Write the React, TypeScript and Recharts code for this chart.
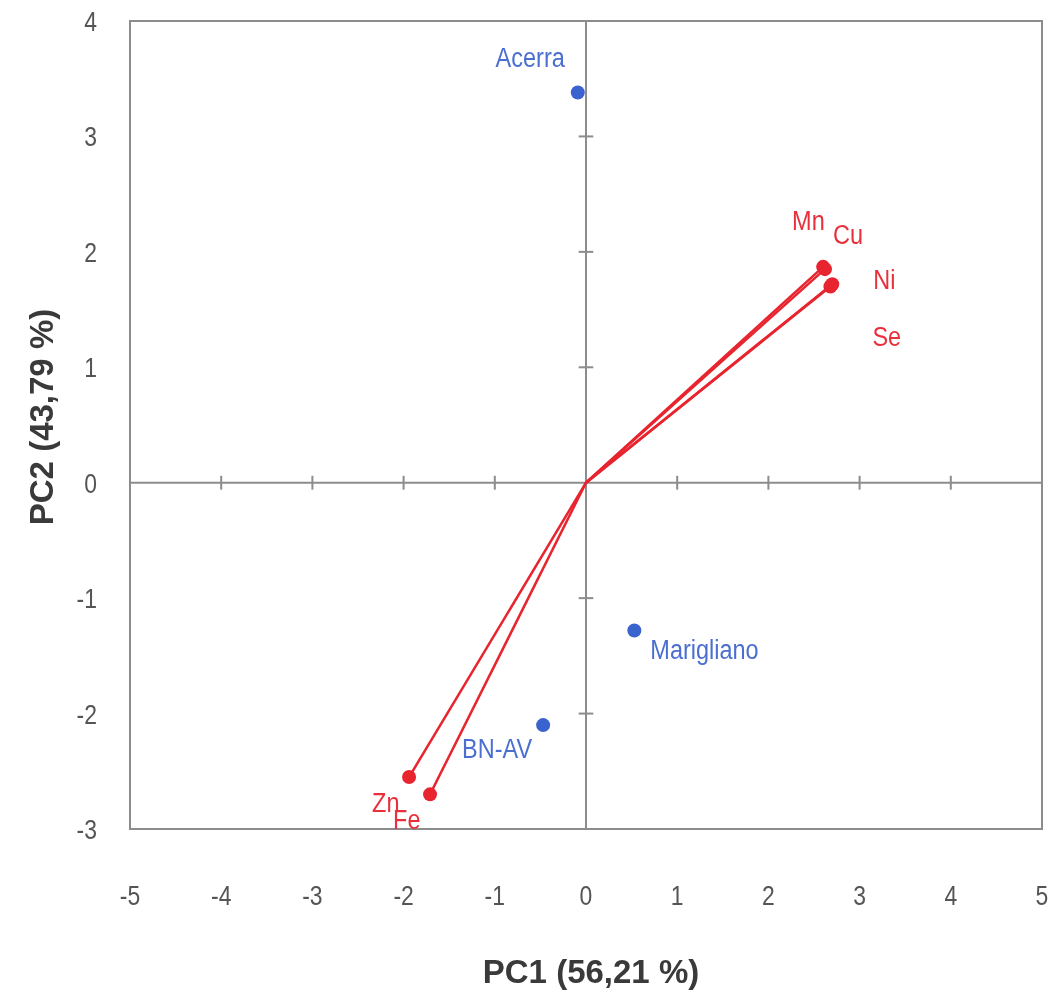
import React from "react";
import {
  ScatterChart,
  Scatter,
  XAxis,
  YAxis,
  ReferenceLine,
  ReferenceArea,
} from "recharts";

// ---- Data ----
const xTicks = [-5, -4, -3, -2, -1, 0, 1, 2, 3, 4, 5];
const yTicks = [-3, -2, -1, 0, 1, 2, 3, 4];
const xInnerTicks = [-4, -3, -2, -1, 1, 2, 3, 4];
const yInnerTicks = [-2, -1, 1, 2, 3];

const sites = [
  { name: "Acerra", x: -0.09, y: 3.38 },
  { name: "Marigliano", x: 0.53, y: -1.28 },
  { name: "BN-AV", x: -0.47, y: -2.1 },
];

const variables = [
  { name: "Mn", x: 2.6, y: 1.87 },
  { name: "Cu", x: 2.62, y: 1.85 },
  { name: "Ni", x: 2.7, y: 1.72 },
  { name: "Se", x: 2.68, y: 1.7 },
  { name: "Zn", x: -1.94, y: -2.55 },
  { name: "Fe", x: -1.71, y: -2.7 },
];

const xTitle = "PC1 (56,21 %)";
const yTitle = "PC2 (43,79 %)";

// ---- Styles ----
const BLUE = "#3b63cf";
const BLUE_TEXT = "#4a6fd0";
const RED = "#e8242e";
const RED_TEXT = "#e8303c";
const GRAY = "#8c8c8c";
const FONT = "'Liberation Sans', Arial, sans-serif";

const labelOffsets: Record<string, { dx: number; dy: number; anchor: string }> = {
  Acerra: { dx: -13, dy: -26, anchor: "end" },
  Marigliano: { dx: 16, dy: 29, anchor: "start" },
  "BN-AV": { dx: -11, dy: 33, anchor: "end" },
  Mn: { dx: -31, dy: -37, anchor: "start" },
  Cu: { dx: 8, dy: -25, anchor: "start" },
  Ni: { dx: 41, dy: 5, anchor: "start" },
  Se: { dx: 42, dy: 60, anchor: "start" },
  Zn: { dx: -37, dy: 35, anchor: "start" },
  Fe: { dx: -37, dy: 35, anchor: "start" },
};

const makeShape = (fill: string, textFill: string, size: number) => (props: any) => {
  const { cx, cy, payload } = props;
  const off = labelOffsets[payload.name] || { dx: 8, dy: -8, anchor: "start" };
  const tx = cx + off.dx;
  const ty = cy + off.dy;
  return (
    <g>
      <circle cx={cx} cy={cy} r={7} fill={fill} />
      <text
        x={tx}
        y={ty}
        textAnchor={off.anchor as any}
        fill={textFill}
        fontFamily={FONT}
        fontSize={size}
        transform={`translate(${tx} 0) scale(0.87 1) translate(${-tx} 0)`}
      >
        {payload.name}
      </text>
    </g>
  );
};

const noShape = () => <g />;

const XTick = (props: any) => {
  const { x, y, payload } = props;
  return (
    <text
      x={x}
      y={y + 20}
      textAnchor="middle"
      fill="#555"
      fontFamily={FONT}
      fontSize={27}
      transform={`translate(${x} 0) scale(0.85 1) translate(${-x} 0)`}
    >
      {payload.value}
    </text>
  );
};

const YTick = (props: any) => {
  const { x, y, payload } = props;
  return (
    <text
      x={x}
      y={y + 10}
      textAnchor="end"
      fill="#555"
      fontFamily={FONT}
      fontSize={27}
      transform={`translate(${x} 0) scale(0.85 1) translate(${-x} 0)`}
    >
      {payload.value}
    </text>
  );
};

export default function App() {
  return (
    <div style={{ position: "fixed", left: 0, top: 0 }}>
      <ScatterChart
        width={1050}
        height={994}
        margin={{ top: 21, right: 8, left: 0, bottom: 0 }}
      >
        <XAxis
          type="number"
          dataKey="x"
          domain={[-5, 5]}
          ticks={xTicks}
          allowDataOverflow
          axisLine={false}
          tickLine={false}
          tickSize={0}
          tickMargin={56}
          height={165}
          tick={<XTick />}
          label={{
            content: (p: any) => {
              const vb = p.viewBox;
              return (
                <text
                  x={vb.x + vb.width / 2 + 5}
                  y={vb.y + 154}
                  textAnchor="middle"
                  fontFamily={FONT}
                  fontWeight="bold"
                  fontSize={33}
                  fill="#3a3a3a"
                >
                  {xTitle}
                </text>
              );
            },
          }}
        />
        <YAxis
          type="number"
          dataKey="y"
          domain={[-3, 4]}
          ticks={yTicks}
          allowDataOverflow
          axisLine={false}
          tickLine={false}
          tickSize={0}
          tickMargin={33}
          width={130}
          tick={<YTick />}
          label={{
            content: (p: any) => {
              const vb = p.viewBox;
              const x = vb.x + 53;
              const y = vb.y + vb.height / 2 - 8;
              return (
                <text
                  x={x}
                  y={y}
                  transform={`rotate(-90 ${x} ${y})`}
                  textAnchor="middle"
                  fontFamily={FONT}
                  fontWeight="bold"
                  fontSize={33}
                  fill="#3a3a3a"
                >
                  {yTitle}
                </text>
              );
            },
          }}
        />
        <ReferenceArea
          x1={-5}
          x2={5}
          y1={-3}
          y2={4}
          fill="none"
          stroke={GRAY}
          strokeWidth={2}
          ifOverflow="visible"
        />
        <ReferenceLine x={0} stroke={GRAY} strokeWidth={2} />
        <ReferenceLine y={0} stroke={GRAY} strokeWidth={2} />
        {xInnerTicks.map((t) => (
          <ReferenceLine
            key={`xt${t}`}
            segment={[
              { x: t, y: -0.06 },
              { x: t, y: 0.06 },
            ]}
            stroke={GRAY}
            strokeWidth={2}
          />
        ))}
        {yInnerTicks.map((t) => (
          <ReferenceLine
            key={`yt${t}`}
            segment={[
              { x: -0.08, y: t },
              { x: 0.08, y: t },
            ]}
            stroke={GRAY}
            strokeWidth={2}
          />
        ))}
        {variables.map((v) => (
          <Scatter
            key={`vec${v.name}`}
            data={[
              { x: 0, y: 0 },
              { x: v.x, y: v.y },
            ]}
            line={{ stroke: RED, strokeWidth: 2.5 }}
            shape={noShape}
            isAnimationActive={false}
          />
        ))}
        <Scatter
          data={variables}
          shape={makeShape(RED, RED_TEXT, 27)}
          isAnimationActive={false}
        />
        <Scatter
          data={sites}
          shape={makeShape(BLUE, BLUE_TEXT, 27)}
          isAnimationActive={false}
        />
      </ScatterChart>
    </div>
  );
}
